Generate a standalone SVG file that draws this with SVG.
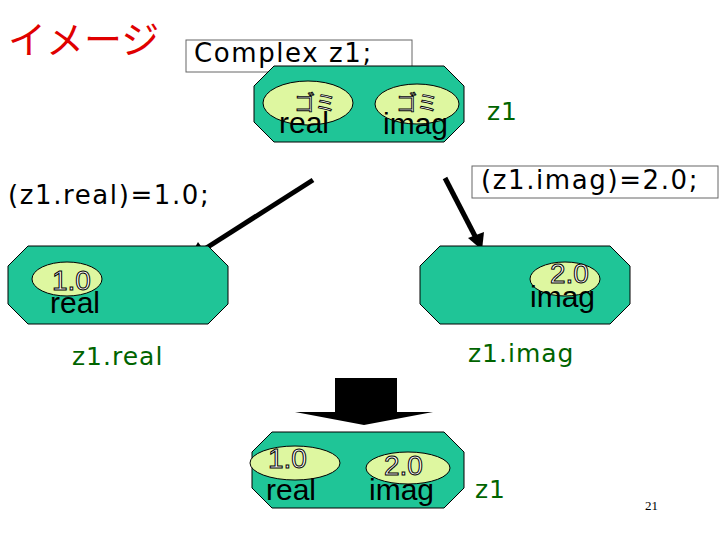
<svg xmlns="http://www.w3.org/2000/svg" width="720" height="540" viewBox="0 0 720 540">
<style>
.oct{fill:#1fc597;stroke:#000;stroke-width:1}
.ell{fill:#def7a0;stroke:#000;stroke-width:1}
.lbl{font-family:"DejaVu Sans",Verdana,sans-serif;font-size:26px;fill:#000;letter-spacing:1.6px}
.fld{font-family:"Liberation Sans",Arial,sans-serif;font-size:30px;fill:#000}
.grn{font-family:"DejaVu Sans",Verdana,sans-serif;font-size:25px;fill:#006400;letter-spacing:1px}
.out{font-family:"Liberation Sans",Arial,sans-serif;font-size:28px;fill:#fff;stroke:#000;stroke-width:1}
.gm{font-family:"Noto Sans CJK JP",sans-serif;font-size:21px;fill:#fff;stroke:#000;stroke-width:0.9}
.box{fill:#fff;stroke:#666;stroke-width:1}
</style>
<rect width="720" height="540" fill="#fff"/>
<text x="8" y="53" font-family="'Noto Sans CJK JP',sans-serif" font-size="38" fill="#e00000">イメージ</text>
<g id="decl"><rect class="box" x="186" y="40" width="226" height="32"/><text class="lbl" x="194" y="62">Complex  z1;</text></g>
<g id="z1top">
<polygon class="oct" points="274,66 444,66 464,86 464,122 444,142 274,142 254,122 254,86"/>
<ellipse class="ell" cx="308" cy="103" rx="45" ry="22"/>
<ellipse class="ell" cx="417" cy="104" rx="42" ry="20"/>
<text class="gm" x="294" y="110">ゴミ</text>
<text class="gm" x="396" y="110">ゴミ</text>
<text class="fld" x="279" y="133">real</text>
<text class="fld" x="383" y="134">imag</text>
<text class="grn" x="487" y="120">z1</text>
</g>
<g id="assign"><rect class="box" x="472" y="166" width="246" height="32"/><text class="lbl" x="481" y="189">(z1.imag)=2.0;</text>
<text class="lbl" x="8" y="204">(z1.real)=1.0;</text></g>
<g id="connectors">
<line x1="313" y1="180" x2="200" y2="252" stroke="#000" stroke-width="5"/>
<polygon points="188,260 198,242 208,256" fill="#000"/>
<line x1="445" y1="178" x2="476" y2="238" stroke="#000" stroke-width="5"/>
<polygon points="482,250 468,238 484,232" fill="#000"/>
<polygon points="335,378 397,378 397,412 433,412 364,425 295,412 335,412" fill="#000"/>
</g>
<g id="z1real">
<polygon class="oct" points="28,246 208,246 228,266 228,304 208,324 28,324 8,304 8,266"/>
<ellipse class="ell" cx="67" cy="279" rx="35" ry="17"/>
<text class="out" x="52" y="290">1.0</text>
<text class="fld" x="50" y="313">real</text>
<text class="grn" x="72" y="365">z1.real</text>
</g>
<g id="z1imag">
<polygon class="oct" points="440,246 610,246 630,266 630,304 610,324 440,324 420,304 420,266"/>
<ellipse class="ell" cx="565" cy="279" rx="35" ry="17"/>
<text class="out" x="550" y="283">2.0</text>
<text class="fld" x="530" y="307">imag</text>
<text class="grn" x="468" y="362">z1.imag</text>
</g>
<g id="z1bottom">
<polygon class="oct" points="272,432 444,432 464,452 464,488 444,508 272,508 252,488 252,452"/>
<ellipse class="ell" cx="295" cy="463" rx="45" ry="17"/>
<ellipse class="ell" cx="408" cy="468" rx="42" ry="16"/>
<text class="out" x="268" y="468">1.0</text>
<text class="out" x="384" y="475">2.0</text>
<text class="fld" x="266" y="500">real</text>
<text class="fld" x="369" y="500">imag</text>
<text class="grn" x="475" y="498">z1</text>
</g>
<text x="645" y="510" font-family="'Liberation Serif',serif" font-size="13">21</text>
</svg>
